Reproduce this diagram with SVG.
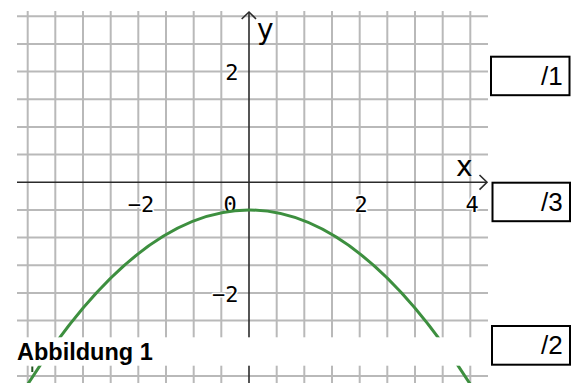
<svg xmlns="http://www.w3.org/2000/svg" width="574" height="383" viewBox="0 0 574 383">
<style>
.grid line{stroke:#b9b9b9;stroke-width:2}
.axis{stroke:#2b2b2b;stroke-width:1.6;fill:none}
.tick{font-family:"DejaVu Sans Mono",monospace;font-size:22px;fill:#000;stroke:#fff;stroke-width:3;paint-order:stroke;stroke-linejoin:round}
.axlab{font-family:"DejaVu Sans",sans-serif;font-size:28px;fill:#000}
.box rect{fill:#fff;stroke:#000;stroke-width:2}
.box text{font-family:"Liberation Sans",Arial,sans-serif;font-size:26px;fill:#000}
</style>
<rect width="574" height="383" fill="#fff"/>
<g id="grid" class="grid">
<line x1="27.7" y1="11" x2="27.7" y2="383"/>
<line x1="55.3" y1="11" x2="55.3" y2="383"/>
<line x1="83" y1="11" x2="83" y2="383"/>
<line x1="110.7" y1="11" x2="110.7" y2="383"/>
<line x1="138.3" y1="11" x2="138.3" y2="383"/>
<line x1="166" y1="11" x2="166" y2="383"/>
<line x1="193.7" y1="11" x2="193.7" y2="383"/>
<line x1="221.3" y1="11" x2="221.3" y2="383"/>
<line x1="276.7" y1="11" x2="276.7" y2="383"/>
<line x1="304.3" y1="11" x2="304.3" y2="383"/>
<line x1="332" y1="11" x2="332" y2="383"/>
<line x1="359.7" y1="11" x2="359.7" y2="383"/>
<line x1="387.3" y1="11" x2="387.3" y2="383"/>
<line x1="415" y1="11" x2="415" y2="383"/>
<line x1="442.7" y1="11" x2="442.7" y2="383"/>
<line x1="470.3" y1="11" x2="470.3" y2="383"/>
<line x1="17" y1="16.3" x2="488" y2="16.3"/>
<line x1="17" y1="44" x2="488" y2="44"/>
<line x1="17" y1="71.6" x2="488" y2="71.6"/>
<line x1="17" y1="99.3" x2="488" y2="99.3"/>
<line x1="17" y1="127" x2="488" y2="127"/>
<line x1="17" y1="154.6" x2="488" y2="154.6"/>
<line x1="17" y1="210" x2="488" y2="210"/>
<line x1="17" y1="237.6" x2="488" y2="237.6"/>
<line x1="17" y1="265.3" x2="488" y2="265.3"/>
<line x1="17" y1="293" x2="488" y2="293"/>
<line x1="17" y1="320.6" x2="488" y2="320.6"/>
<line x1="17" y1="348.3" x2="488" y2="348.3"/>
<line x1="17" y1="376" x2="488" y2="376"/>
</g>
<g id="axes">
<line class="axis" x1="17" y1="182.3" x2="487" y2="182.3"/>
<polyline class="axis" points="479.5,175 487,182.3 479.5,189.6"/>
<line class="axis" x1="249" y1="383" x2="249" y2="12"/>
<polyline class="axis" points="241.7,19 249,12 256,19"/>
<text class="axlab" x="257" y="38.5">y</text>
<text class="axlab" x="456" y="175.7">x</text>
</g>
<g id="ticks">
<text class="tick" x="238.5" y="80" text-anchor="end">2</text>
<text class="tick" x="238.5" y="302.3" text-anchor="end">−2</text>
<text class="tick" x="141" y="212.3" text-anchor="middle">−2</text>
<text class="tick" x="230" y="212.3" text-anchor="middle">0</text>
<text class="tick" x="361" y="212.3" text-anchor="middle">2</text>
<text class="tick" x="472" y="212.3" text-anchor="middle">4</text>
</g>
<g id="curve">
<path d="M19,398.3 Q249,21.7 479,398.3" fill="none" stroke="#3d8f3f" stroke-width="3"/>
</g>
<g id="caption">
<rect x="0" y="337.3" width="489" height="28.4" fill="#fff"/>
<line x1="32.3" y1="366.5" x2="32.3" y2="372" stroke="#23531f" stroke-width="2"/>
<text x="17" y="359.5" font-family="'Liberation Sans',Arial,sans-serif" font-weight="bold" font-size="23.5" fill="#000">Abbildung 1</text>
</g>
<g id="box1" class="box">
<rect x="491" y="56.7" width="78.5" height="38.5"/>
<text x="541" y="84.5">/1</text>
</g>
<g id="box3" class="box">
<rect x="492.5" y="182.7" width="77.5" height="38.5"/>
<text x="541" y="210.5">/3</text>
</g>
<g id="box2" class="box">
<rect x="492" y="326" width="78" height="38.7"/>
<text x="541" y="353.5">/2</text>
</g>
</svg>
